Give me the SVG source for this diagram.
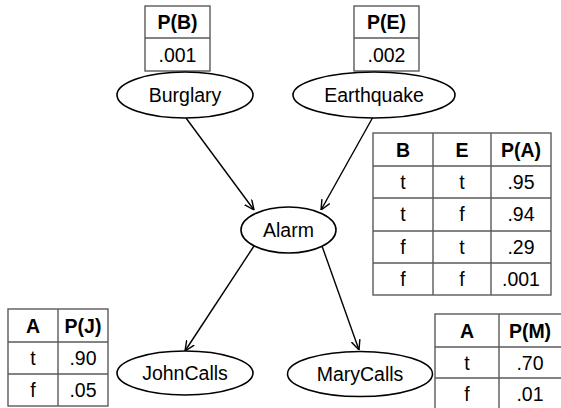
<svg xmlns="http://www.w3.org/2000/svg" width="561" height="408" viewBox="0 0 561 408">
<style>
text{font-family:"Liberation Sans",Arial,sans-serif;font-size:19.5px;fill:#000;text-anchor:middle}
.h{font-weight:bold}
.node{fill:#fff;stroke:#000;stroke-width:1.6}
.tb{fill:#fff;stroke:#5a5a5a;stroke-width:1.4}
.tl{stroke:#5a5a5a;stroke-width:1.4;fill:none}
.edge{stroke:#000;stroke-width:1.4;fill:none;marker-end:url(#arr)}
</style>
<defs>
<marker id="arr" viewBox="0 0 10 10" refX="10" refY="5" markerWidth="10" markerHeight="10" markerUnits="userSpaceOnUse" orient="auto">
<path d="M0,0.5 L10,5 L0,9.5" fill="none" stroke="#000" stroke-width="1.4"/>
</marker>
</defs>
<g id="connectors">
<line class="edge" x1="186" y1="118" x2="254" y2="210"/>
<line class="edge" x1="373" y1="117" x2="321" y2="210"/>
<line class="edge" x1="254" y1="246" x2="185" y2="351"/>
<line class="edge" x1="322" y1="246" x2="359" y2="350"/>
</g>
<g id="table-B">
<rect class="tb" x="145" y="6" width="65" height="65"/>
<line class="tl" x1="145" y1="38" x2="210" y2="38"/>
<text class="h" x="177.5" y="29">P(B)</text>
<text x="177.5" y="62">.001</text>
</g>
<g id="table-E">
<rect class="tb" x="354" y="6" width="65" height="65"/>
<line class="tl" x1="354" y1="38" x2="419" y2="38"/>
<text class="h" x="386.5" y="29">P(E)</text>
<text x="386.5" y="62">.002</text>
</g>
<g id="Burglary">
<ellipse class="node" cx="185" cy="95" rx="68" ry="23"/>
<text x="185" y="102">Burglary</text>
</g>
<g id="Earthquake">
<ellipse class="node" cx="374" cy="95" rx="81" ry="23"/>
<text x="374" y="102">Earthquake</text>
</g>
<g id="Alarm">
<ellipse class="node" cx="288.5" cy="230" rx="47.5" ry="23"/>
<text x="288.5" y="237">Alarm</text>
</g>
<g id="JohnCalls">
<ellipse class="node" cx="185" cy="373" rx="68" ry="22"/>
<text x="185" y="380">JohnCalls</text>
</g>
<g id="MaryCalls">
<ellipse class="node" cx="360" cy="374" rx="72.5" ry="22.5"/>
<text x="360" y="381">MaryCalls</text>
</g>
<g id="table-A">
<rect class="tb" x="373" y="133" width="178" height="162"/>
<line class="tl" x1="433" y1="133" x2="433" y2="295"/>
<line class="tl" x1="491" y1="133" x2="491" y2="295"/>
<line class="tl" x1="373" y1="166" x2="551" y2="166"/>
<line class="tl" x1="373" y1="198" x2="551" y2="198"/>
<line class="tl" x1="373" y1="231" x2="551" y2="231"/>
<line class="tl" x1="373" y1="263" x2="551" y2="263"/>
<text class="h" x="403" y="157">B</text>
<text class="h" x="462" y="157">E</text>
<text class="h" x="521" y="157">P(A)</text>
<text x="403" y="189">t</text><text x="462" y="189">t</text><text x="521" y="189">.95</text>
<text x="403" y="221">t</text><text x="462" y="221">f</text><text x="521" y="221">.94</text>
<text x="403" y="254">f</text><text x="462" y="254">t</text><text x="521" y="254">.29</text>
<text x="403" y="286">f</text><text x="462" y="286">f</text><text x="521" y="286">.001</text>
</g>
<g id="table-J">
<rect class="tb" x="8" y="309" width="100" height="97"/>
<line class="tl" x1="58" y1="309" x2="58" y2="406"/>
<line class="tl" x1="8" y1="342" x2="108" y2="342"/>
<line class="tl" x1="8" y1="374" x2="108" y2="374"/>
<text class="h" x="33" y="333">A</text>
<text class="h" x="83" y="333">P(J)</text>
<text x="33" y="365">t</text><text x="83" y="365">.90</text>
<text x="33" y="397">f</text><text x="83" y="397">.05</text>
</g>
<g id="table-M">
<rect class="tb" x="435" y="314" width="132" height="100"/>
<line class="tl" x1="499" y1="314" x2="499" y2="414"/>
<line class="tl" x1="435" y1="347" x2="567" y2="347"/>
<line class="tl" x1="435" y1="378" x2="567" y2="378"/>
<text class="h" x="467" y="338">A</text>
<text class="h" x="530" y="338">P(M)</text>
<text x="467" y="370">t</text><text x="530" y="370">.70</text>
<text x="467" y="401">f</text><text x="530" y="401">.01</text>
</g>
</svg>
